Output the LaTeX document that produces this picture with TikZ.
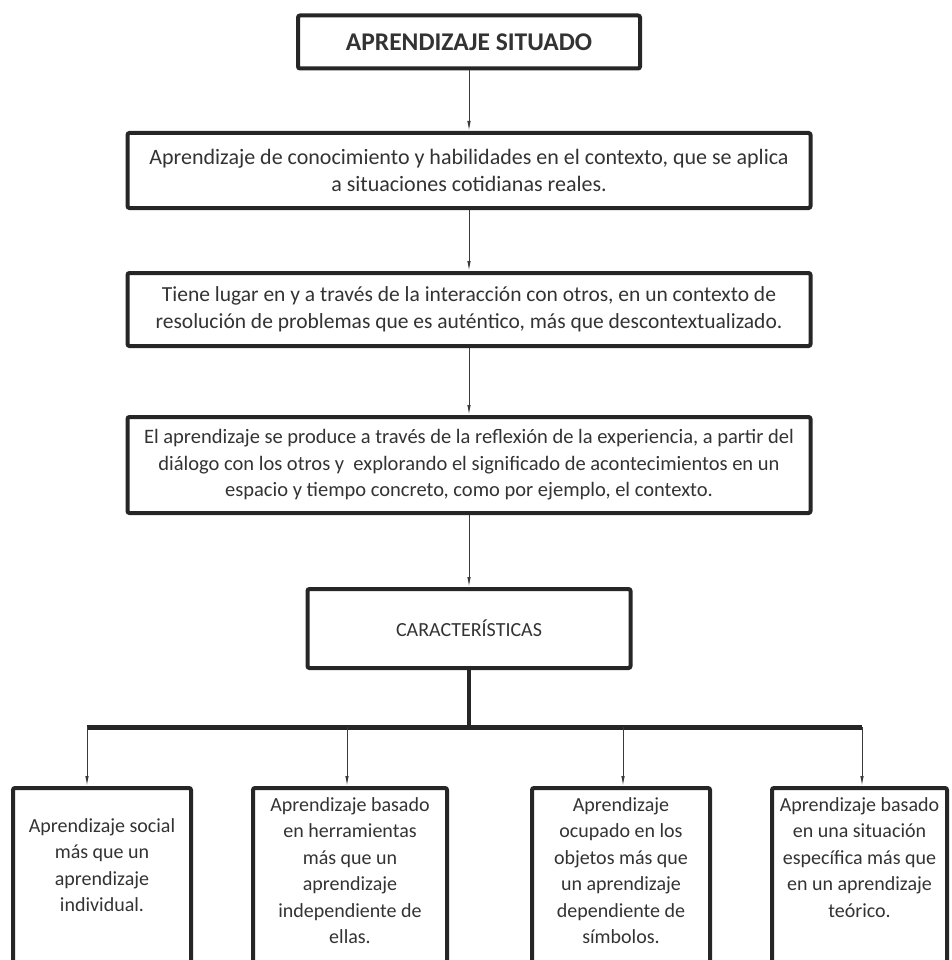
\documentclass[tikz,border=0pt]{standalone}
\usepackage{fontspec}
\setmainfont{Carlito}
\usetikzlibrary{arrows.meta}
\definecolor{borde}{HTML}{262626}
\definecolor{texto}{HTML}{333333}
\definecolor{linea}{HTML}{3A3A3A}
\begin{document}
\begin{tikzpicture}[x=1pt, y=-1pt, >={Latex[length=10pt,width=3.5pt]},
    caja/.style={draw=borde, line width=4pt, rounded corners=2pt, fill=white, inner sep=0pt,
        align=center, text=texto, font=\fontsize{22}{26.5}\selectfont},
    rasgo/.style={caja, anchor=north, minimum height=200pt},
    nota/.style={anchor=north, align=center, inner sep=0pt, text=texto, font=\fontsize{20}{26.5}\selectfont},
    flecha/.style={->, draw=linea, line width=1pt}]
    % 1. Marco de la figura
    \useasboundingbox (0,0) rectangle (951,960);
    \clip (0,0) rectangle (951,960);

    % 2. Cajas de la columna central
    \node[caja, minimum width=342pt, minimum height=53pt, font=\fontsize{25.5}{28}\selectfont\bfseries] (titulo) at (469,42) {APRENDIZAJE SITUADO};
    \node[caja, minimum width=683pt, minimum height=75pt] (definicion) at (469,170.5)
        {Aprendizaje de conocimiento y habilidades en el contexto, que se aplica\\a situaciones cotidianas reales.};
    \node[caja, minimum width=683pt, minimum height=73pt, font=\fontsize{21.5}{26.5}\selectfont] (interaccion) at (469,309.5)
        {Tiene lugar en y a través de la interacción con otros, en un contexto de\\resolución de problemas que es auténtico, más que descontextualizado.};
    \node[caja, minimum width=683pt, minimum height=96pt, font=\fontsize{20.5}{26.5}\selectfont] (reflexion) at (469,465)
        {El aprendizaje se produce a través de la reflexión de la experiencia, a partir del\\diálogo con los otros y\ \ explorando el significado de acontecimientos en un\\espacio y tiempo concreto, como por ejemplo, el contexto.};
    \node[caja, minimum width=323pt, minimum height=79pt, font=\fontsize{20}{24}\selectfont] (carac) at (469,628.5) {CARACTERÍSTICAS};

    % 3. Flechas entre las cajas centrales
    \draw[flecha] (titulo.south) -- (definicion.north);
    \draw[flecha] (definicion.south) -- (interaccion.north);
    \draw[flecha] (interaccion.south) -- (reflexion.north);
    \draw[flecha] (reflexion.south) -- (carac.north);

    % 4. Barra de reparto
    \coordinate (bus) at (469,727);
    \coordinate (b1) at (87,727);
    \coordinate (b2) at (347,727);
    \coordinate (b3) at (623,727);
    \coordinate (b4) at (862,727);
    \draw[borde, line width=4pt] (carac.south) -- (bus);
    \draw[borde, line width=5pt] (b1) -- (b4);

    % 5. Cajas de las características
    \node[rasgo, minimum width=178pt] (r1) at (102,786) {};
    \node[rasgo, minimum width=194pt] (r2) at (350,786) {};
    \node[rasgo, minimum width=178pt] (r3) at (621,786) {};
    \node[rasgo, minimum width=175pt] (r4) at (859.5,786) {};
    \foreach \i in {1,...,4}
        \draw[flecha] (b\i) -- (b\i |- r\i.north);

    \node[nota] (t1) at (102,818) {Aprendizaje social\\más que un\\aprendizaje\\individual.};
    \node[nota] (t2) at (350,797) {Aprendizaje basado\\en herramientas\\más que un\\aprendizaje\\independiente de\\ellas.};
    \node[nota] (t3) at (621,797) {Aprendizaje\\ocupado en los\\objetos más que\\un aprendizaje\\dependiente de\\símbolos.};
    \node[nota] (t4) at (859.5,797) {Aprendizaje basado\\en una situación\\específica más que\\en un aprendizaje\\teórico.};
\end{tikzpicture}
\end{document}
